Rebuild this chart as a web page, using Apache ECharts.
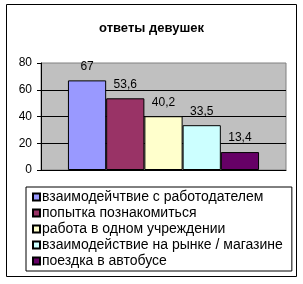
<!DOCTYPE html>
<html>
<head>
<meta charset="utf-8">
<script src="https://cdn.jsdelivr.net/npm/echarts@6/dist/echarts.min.js"></script>
<style>
  html, body { margin: 0; padding: 0; background: #fff; }
  #chart { width: 303px; height: 284px; }
</style>
</head>
<body>
<div id="chart"></div>
<script>
// данные диаграммы
var seriesNames = [
  'взаимодейчтвие с работодателем',
  'попытка познакомиться',
  'работа в одном учреждении',
  'взаимодействие на рынке / магазине',
  'поездка в автобусе'
];
var seriesValues = [67, 53.6, 40.2, 33.5, 13.4];
var seriesLabels = ['67', '53,6', '40,2', '33,5', '13,4'];
var barColors = ['#9999FF', '#993366', '#FFFFCC', '#CCFFFF', '#660066'];
var yTicks = [0, 20, 40, 60, 80];

var myChart = echarts.init(document.getElementById('chart'));

var series = [];
for (var i = 0; i < seriesNames.length; i++) {
  series.push({
    name: seriesNames[i],
    type: 'bar',
    data: [seriesValues[i]],
    barGap: 0,
    barCategoryGap: '22%',
    itemStyle: { color: barColors[i], borderColor: '#000', borderWidth: 1 },
    label: {
      show: true,
      position: 'top',
      distance: 8,
      color: '#000',
      fontFamily: 'Liberation Sans',
      fontSize: 12,
      formatter: (function (t) { return function () { return t; }; })(seriesLabels[i])
    }
  });
}

myChart.setOption({
  animation: false,
  title: {
    text: 'ответы девушек',
    left: 'center',
    top: 17,
    textStyle: { fontFamily: 'Liberation Sans', fontSize: 13, fontWeight: 'bold', color: '#000' }
  },
  grid: {
    left: 41, top: 63, width: 245, height: 107,
    show: true, backgroundColor: '#C0C0C0', borderColor: '#808080', borderWidth: 1
  },
  xAxis: {
    type: 'category',
    data: [''],
    axisLine: { lineStyle: { color: '#000', width: 1 } },
    axisTick: { show: false },
    axisLabel: { show: false }
  },
  yAxis: {
    type: 'value',
    min: yTicks[0],
    max: yTicks[yTicks.length - 1],
    interval: 20,
    axisLine: { show: true, lineStyle: { color: '#000', width: 1 } },
    axisTick: { show: true, length: 4, lineStyle: { color: '#000' } },
    axisLabel: { color: '#000', fontFamily: 'Liberation Sans', fontSize: 12, margin: 9 },
    splitLine: { showMaxLine: false, lineStyle: { color: '#000', width: 1 } }
  },
  legend: {
    orient: 'vertical',
    left: 26,
    top: 187,
    data: seriesNames,
    icon: 'rect',
    itemWidth: 7,
    itemHeight: 7,
    itemGap: 0,
    padding: [2, 9, 2, 6],
    borderColor: '#000',
    borderWidth: 1,
    textStyle: { fontFamily: 'Liberation Sans', fontSize: 14, lineHeight: 16, color: '#000', padding: [0, 0, 0, -3] }
  },
  graphic: [{
    type: 'rect',
    shape: { x: 6.5, y: 4.5, width: 290, height: 272 },
    style: { fill: 'none', stroke: '#000', lineWidth: 1 },
    silent: true
  }],
  series: series
});
</script>
</body>
</html>
